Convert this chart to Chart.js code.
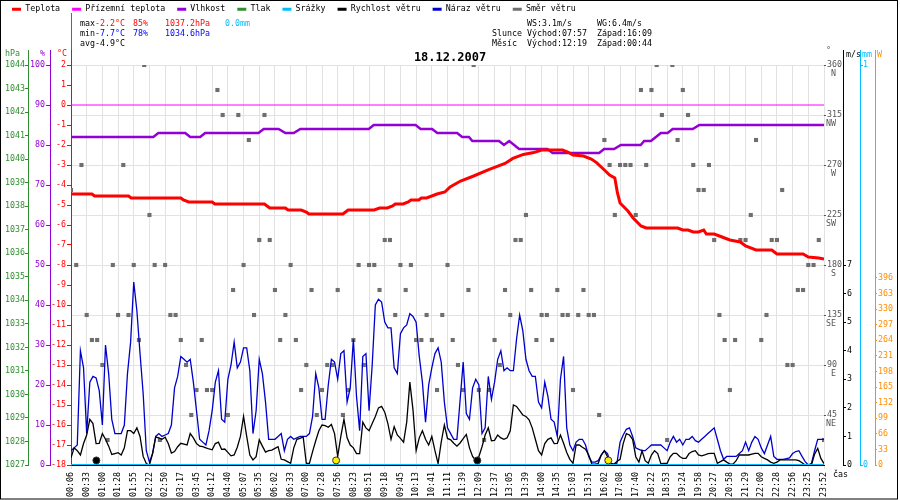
<!DOCTYPE html>
<html>
<head>
<meta charset="utf-8">
<script src="https://cdn.jsdelivr.net/npm/chart.js@4.4.1/dist/chart.umd.min.js"></script>
<style>
  html, body { margin: 0; padding: 0; background: #fff; }
  canvas { display: block; }
</style>
</head>
<body>
<canvas id="c" width="900" height="500"></canvas>
<script>
// x axis: sample number 0..288, a time label every 6 samples
const timeLabels = ['00:06','00:33','01:00','01:28','01:55','02:22','02:50','03:17','03:45','04:12',
  '04:40','05:07','05:35','06:02','06:33','07:00','07:28','07:56','08:23','08:51','09:18','09:45',
  '10:13','10:41','11:11','11:39','12:09','12:37','13:05','13:39','14:00','14:35','15:03','15:31',
  '16:02','17:08','17:40','18:22','18:53','19:24','19:58','20:27','20:58','21:29','22:00','22:28',
  '22:56','23:25','23:52'];

// [sample, °C]
const tempPts = [[0,-4.45],[8,-4.45],[9,-4.55],[22,-4.55],[23,-4.65],[42,-4.65],[43,-4.75],[45,-4.85],
  [54,-4.85],[55,-4.95],[74,-4.95],[75,-5.05],[76,-5.15],[82,-5.15],[83,-5.25],[88,-5.25],[90,-5.35],
  [91,-5.45],[104,-5.45],[105,-5.35],[106,-5.25],[116,-5.25],[118,-5.15],[121,-5.15],[123,-5.05],
  [124,-4.95],[127,-4.95],[129,-4.85],[130,-4.75],[133,-4.75],[134,-4.65],[136,-4.65],[140,-4.45],
  [143,-4.35],[145,-4.1],[149,-3.8],[154,-3.55],[160,-3.22],[166,-2.92],[169,-2.67],[173,-2.47],
  [177,-2.38],[180,-2.25],[188,-2.25],[190,-2.35],[192,-2.5],[196,-2.55],[199,-2.7],[201,-2.88],
  [204,-3.25],[206,-3.5],[208,-3.65],[209,-4.4],[210,-4.9],[213,-5.3],[215,-5.65],[218,-6.05],
  [220,-6.15],[232,-6.15],[234,-6.25],[236,-6.25],[238,-6.35],[240,-6.35],[242,-6.25],[243,-6.45],
  [246,-6.45],[249,-6.6],[252,-6.75],[256,-6.85],[258,-7.05],[262,-7.25],[268,-7.25],[270,-7.45],
  [280,-7.45],[282,-7.6],[286,-7.65],[288,-7.7]];

// [sample, °C] ground temperature
const groundPts = [[0,0],[288,0]];

// [sample, %]
const humPts = [[0,82],[31.5,82],[33.4,83],[43.7,83],[45.6,82],[49.4,82],[51.3,83],[71.7,83],[73.7,84],
  [79.4,84],[82,83],[85.2,83],[87.7,84],[113.9,84],[115.8,85],[131.8,85],[133.7,84],[138.1,84],
  [140.1,83],[147.7,83],[149.6,82],[152.2,82],[153.5,81],[163.7,81],[165.6,80],[167.6,81],[171.4,79],
  [182.2,79],[184.2,78],[202,78],[203.9,79],[207.7,79],[210.3,80],[217.9,80],[219.2,81],[221.8,81],
  [223.7,82],[225.6,83],[228.2,83],[230.1,84],[237.8,84],[240.3,85],[288,85]];

// pressure: no line visible in the picture
const pressPts = [];

// [sample, mm]
const precipPts = [[0,0],[288,0]];

// wind in m/s, 241 readings spread evenly over the day
const windSpeed = [0.25,0.6,0.5,0.35,0.75,1.05,1.6,1.45,0.75,0.76,
  1.1,0.9,0.66,0.37,0.4,0.43,0.35,0.6,1.2,1.2,
  1.1,1.3,1.0,0.3,0.05,0.0,0.4,0.98,0.95,0.9,
  0.97,0.75,0.42,0.47,0.64,0.76,0.73,0.7,1.1,0.95,
  0.75,0.66,0.64,0.6,0.56,0.53,0.75,0.8,0.55,0.56,
  0.44,0.32,0.35,0.62,1.0,1.7,1.0,0.35,0.18,0.29,
  0.88,0.66,0.45,0.5,0.52,0.58,0.64,0.2,0.18,0.12,
  0.06,0.6,0.9,0.93,0.98,0.06,0.06,0.47,0.85,1.2,
  1.4,1.38,1.32,1.42,1.1,0.3,1.0,1.6,0.95,0.7,
  0.6,0.4,0.4,1.5,1.3,1.2,1.45,1.7,2.0,2.05,
  1.85,1.45,0.9,1.34,1.05,0.93,0.8,1.5,2.9,1.93,
  0.5,0.95,1.2,0.9,0.7,1.0,0.5,0.05,0.8,1.4,
  0.93,0.88,0.76,0.66,0.77,0.92,1.07,0.6,0.3,0.15,
  0.29,0.64,1.05,1.3,0.85,0.86,1.05,0.95,0.9,0.95,
  1.2,2.1,2.05,1.9,1.75,1.7,1.58,1.3,0.9,0.5,
  0.35,0.75,0.9,0.95,0.75,0.76,1.05,0.76,0.44,0.2,
  0.06,0.7,0.7,0.62,0.55,0.35,0.03,0.03,0.05,0.35,
  0.5,0.29,0.05,0.03,0.12,0.2,0.75,1.1,1.05,0.9,
  0.29,0.1,0.5,0.15,0.06,0.35,0.5,0.4,0.05,0.06,
  0.06,0.29,0.41,0.41,0.3,0.23,0.23,0.4,0.47,0.5,
  0.35,0.32,0.35,0.4,0.41,0.41,0.06,0.12,0.18,0.1,
  0.03,0.03,0.15,0.35,0.35,0.35,0.35,0.38,0.41,0.41,
  0.29,0.23,0.18,0.1,0.06,0.1,0.18,0.18,0.18,0.18,
  0.18,0.18,0.15,0.08,0.0,0.0,0.0,0.38,0.58,0.23,
  0.05];

const windGust = [0.5,0.6,0.7,4.0,3.4,1.1,2.9,3.1,3.05,2.6,
  1.4,4.2,3.2,1.6,1.1,1.1,1.1,1.4,3.2,4.3,
  6.4,5.4,3.9,2.5,0.5,0.1,0.4,1.0,1.1,1.0,
  1.05,1.1,1.4,2.7,3.1,3.8,3.7,3.6,3.7,2.9,
  1.9,0.9,0.8,0.7,1.2,1.9,2.9,3.3,1.6,1.5,
  3.0,3.5,4.3,3.4,3.6,4.1,4.1,3.3,1.1,1.9,
  3.7,3.2,2.2,0.9,0.9,0.9,1.0,1.1,0.5,0.9,
  1.0,0.9,0.95,1.0,1.0,1.0,1.1,1.7,3.2,2.7,
  1.6,1.6,2.8,3.7,3.6,3.0,3.9,4.0,2.2,2.7,
  4.4,2.4,1.2,3.8,3.9,1.9,3.5,5.6,5.8,5.7,
  5.0,4.8,4.8,3.4,3.2,4.6,4.8,4.9,5.3,5.2,
  5.0,3.8,2.9,1.5,2.8,3.4,3.9,4.1,3.6,2.2,
  1.3,1.1,0.9,0.9,2.25,3.6,1.8,1.6,2.7,3.0,
  2.8,1.1,1.3,3.1,2.3,2.9,3.7,4.0,3.3,3.4,
  3.3,3.3,4.4,5.25,4.7,3.7,3.3,3.1,3.1,2.2,
  2.0,2.9,2.4,1.6,1.5,1.0,3.0,3.8,1.3,0.7,
  0.5,0.8,0.9,0.9,0.7,0.3,0.1,0.1,0.15,0.35,
  0.5,0.4,0.06,0.03,0.06,0.8,1.05,1.25,1.3,1.0,
  0.6,0.55,0.5,0.5,0.6,0.7,0.7,0.7,0.7,0.6,
  0.5,0.8,1.0,0.8,0.9,0.7,0.9,0.9,1.0,0.85,
  0.8,0.9,1.0,1.1,1.2,1.3,0.9,0.5,0.2,0.3,
  0.3,0.3,0.3,0.4,0.5,0.8,0.5,0.8,1.0,0.9,
  0.6,0.4,0.7,1.0,0.3,0.2,0.2,0.2,0.22,0.25,
  0.4,0.47,0.5,0.3,0.12,0.0,0.06,0.5,0.9,0.9,
  0.9];

// wind direction in degrees, every second sample
const windDir = [247.5,180,270,135,112.5,112.5,90,22.5,180,135,
  270,135,180,112.5,360,225,180,22.5,180,135,
  135,112.5,90,45,67.5,112.5,67.5,67.5,337.5,315,
  45,157.5,315,180,292.5,135,202.5,315,202.5,157.5,
  112.5,135,180,112.5,67.5,90,157.5,45,67.5,90,
  90,157.5,45,67.5,112.5,180,90,180,180,157.5,
  202.5,202.5,135,180,157.5,180,112.5,112.5,135,112.5,
  67.5,135,180,112.5,90,67.5,157.5,360,67.5,22.5,
  67.5,112.5,90,157.5,135,202.5,202.5,225,157.5,112.5,
  135,135,112.5,157.5,135,135,67.5,135,157.5,135,
  135,45,292.5,270,225,270,270,270,225,337.5,
  270,337.5,360,315,22.5,360,292.5,337.5,315,270,
  247.5,247.5,270,202.5,135,112.5,67.5,112.5,202.5,202.5,
  225,292.5,112.5,135,202.5,202.5,247.5,90,90,157.5,
  157.5,180,180,202.5,22.5];

// sunrise / sunset and moonset / moonrise, in samples
const sunX = [101.4, 205.5];
const moonX = [9.7, 155.4];

// tick values
const tempTicks = [-18,-17,-16,-15,-14,-13,-12,-11,-10,-9,-8,-7,-6,-5,-4,-3,-2,-1,0,1,2];
const humTicks = [0,10,20,30,40,50,60,70,80,90,100];
const pressTicks = [1027,1028,1029,1030,1031,1032,1033,1034,1035,1036,1037,1038,1039,1040,1041,1042,1043,1044];
const dirTicks = [45,90,135,180,225,270,315,360];
const dirNames = ['NE','E','SE','S','SW','W','NW','N'];
const msTicks = [0,1,2,3,4,5,6,7];
const mmTicks = [0,1];
const wTicks = [0,33,66,99,132,165,198,231,264,297,330,363,396];

// header texts
const dateTitle = '18.12.2007';
const statMax = ['-2.2°C', '85%', '1037.2hPa', '0.0mm'];
const statMin = ['-7.7°C', '78%', '1034.6hPa'];
const statAvg = '-4.9°C';
const windStats = ['WS:3.1m/s', 'WG:6.4m/s'];
const sunTimes = ['Východ:07:57', 'Západ:16:09'];
const moonTimes = ['Východ:12:19', 'Západ:00:44'];

const MONO = '"DejaVu Sans Mono", monospace';
const RED = '#ff0000', PURPLE = '#9400d3', GREEN = '#2f8f2f', CYAN = '#00bfff',
  BLUE = '#0000cc', GREY = '#6e6e6e', ORANGE = '#ff8c00';

Chart.defaults.font.family = MONO;
Chart.defaults.font.size = 8.3;
Chart.defaults.color = '#000';

const toXY = pts => pts.map(p => ({ x: p[0], y: p[1] }));
const windStep = 288 / (windSpeed.length - 1);

function yAxis(o) {
  return {
    type: 'linear',
    position: o.pos,
    weight: o.weight,
    min: o.min,
    max: o.max,
    afterFit: s => { s.width = o.width; },
    afterBuildTicks: s => { s.ticks = o.ticks.map(v => ({ value: v })); },
    ticks: { color: o.color, padding: o.pad, callback: v => String(v) },
    grid: {
      drawOnChartArea: !!o.grid,
      color: '#e2e2e2',
      tickLength: o.tick,
      tickColor: o.tickColor || o.color
    },
    border: { display: o.border !== false, color: o.color }
  };
}

const decor = {
  id: 'decor',
  afterDraw(chart) {
    const { ctx, chartArea: ca, scales } = chart;
    const px = p => Math.round(p - 0.5) + 0.5;
    const vline = (x, y0, y1, c) => {
      ctx.strokeStyle = c; ctx.lineWidth = 1;
      ctx.beginPath(); ctx.moveTo(x, y0); ctx.lineTo(x, y1); ctx.stroke();
    };
    ctx.save();

    // axis lines run on above the plot
    const tT = scales.yT;
    vline(px(tT.right), 13, 50, GREEN);
    [['yP', GREEN], ['yH', PURPLE], ['yT', RED], ['yMS', '#000'], ['yMM', CYAN], ['yW', ORANGE]]
      .forEach(([id, c]) => {
        const s = scales[id];
        vline(px(s.position === 'left' ? s.right : s.left), 50, ca.top, c);
      });

    ctx.font = '8.3px ' + MONO;
    ctx.textBaseline = 'middle';
    ctx.textAlign = 'left';
    const put = (t, x, y, c) => { ctx.fillStyle = c; ctx.fillText(t, x, y); };

    put('max', 80, 24, '#000');
    put(statMax[0], 95, 24, RED);
    put(statMax[1], 133, 24, RED);
    put(statMax[2], 165, 24, RED);
    put(statMax[3], 225, 24, CYAN);
    put('min', 80, 34, '#000');
    put(statMin[0], 95, 34, '#0000ff');
    put(statMin[1], 133, 34, '#0000ff');
    put(statMin[2], 165, 34, '#0000ff');
    put('avg', 80, 44, '#000');
    put(statAvg, 95, 44, '#000');

    put(windStats[0], 527, 24, '#000');
    put(windStats[1], 597, 24, '#000');
    put('Slunce', 492, 34, '#000');
    put(sunTimes[0], 527, 34, '#000');
    put(sunTimes[1], 597, 34, '#000');
    put('Měsíc', 492, 44, '#000');
    put(moonTimes[0], 527, 44, '#000');
    put(moonTimes[1], 597, 44, '#000');

    // units over the axes
    put('hPa', 5, 54, GREEN);
    put('%', 40, 54, PURPLE);
    put('°C', 57, 54, RED);
    put('°', 826, 51, '#555');
    put('m/s', 846, 55, '#000');
    put('mm', 862, 55, CYAN);
    put('W', 877, 55, ORANGE);
    put('čas', 833, 475, '#000');

    // compass names under the direction ticks
    const sD = scales.yD;
    ctx.textAlign = 'right';
    dirTicks.forEach((v, i) => put(dirNames[i], 836, sD.getPixelForValue(v) + 9, '#555'));

    // frame
    ctx.strokeStyle = '#000';
    ctx.lineWidth = 1;
    ctx.strokeRect(0.5, 0.5, 897, 498.5);
    ctx.restore();
  }
};

new Chart(document.getElementById('c'), {
  type: 'line',
  data: {
    datasets: [
      { label: 'Teplota', data: toXY(tempPts), yAxisID: 'yT',
        borderColor: RED, backgroundColor: RED, borderWidth: 3 },
      { label: 'Přízemní teplota', data: toXY(groundPts), yAxisID: 'yT',
        borderColor: '#ff00ff', backgroundColor: '#ff00ff', borderWidth: 1 },
      { label: 'Vlhkost', data: toXY(humPts), yAxisID: 'yH',
        borderColor: PURPLE, backgroundColor: PURPLE, borderWidth: 2.5 },
      { label: 'Tlak', data: toXY(pressPts), yAxisID: 'yP',
        borderColor: GREEN, backgroundColor: GREEN, borderWidth: 2 },
      { label: 'Srážky', data: toXY(precipPts), yAxisID: 'yMM',
        borderColor: CYAN, backgroundColor: CYAN, borderWidth: 2 },
      { label: 'Rychlost větru', data: windSpeed.map((v, i) => ({ x: i * windStep, y: v })), yAxisID: 'yMS',
        borderColor: '#000', backgroundColor: '#000', borderWidth: 1.3 },
      { label: 'Náraz větru', data: windGust.map((v, i) => ({ x: i * windStep, y: v })), yAxisID: 'yMS',
        borderColor: BLUE, backgroundColor: BLUE, borderWidth: 1.3 },
      { label: 'Směr větru', data: windDir.map((v, k) => ({ x: k * 2, y: v })), yAxisID: 'yD',
        showLine: false, pointStyle: 'rect', pointRadius: 2.9, borderWidth: 0,
        borderColor: GREY, backgroundColor: GREY, pointBackgroundColor: GREY },
      { label: '', order: -1, yAxisID: 'yMS', showLine: false,
        data: sunX.concat(moonX).map(x => ({ x, y: 0.16 })),
        pointRadius: 3.5, pointBorderWidth: 1, pointBorderColor: '#333',
        pointBackgroundColor: ['#ffee00', '#ffee00', '#000', '#000'] }
    ]
  },
  options: {
    responsive: false,
    devicePixelRatio: 1,
    animation: false,
    events: [],
    elements: { point: { radius: 0 }, line: { tension: 0 } },
    layout: { padding: { top: -7, left: 0, right: 0, bottom: 0 } },
    plugins: {
      tooltip: { enabled: false },
      legend: {
        position: 'top',
        align: 'start',
        labels: {
          boxWidth: 9,
          boxHeight: 3,
          padding: 12,
          color: '#000',
          font: { family: MONO, size: 8.3 },
          filter: item => item.text !== '',
          generateLabels: chart => Chart.defaults.plugins.legend.labels.generateLabels(chart)
            .map(it => Object.assign(it, { fillStyle: it.strokeStyle, lineWidth: 0 }))
        }
      },
      title: {
        display: true,
        text: dateTitle,
        weight: 500,
        color: '#000',
        font: { family: MONO, size: 12, weight: 'bold' },
        padding: { top: 27.3, bottom: 0 }
      }
    },
    scales: {
      x: {
        type: 'linear', min: 0, max: 288,
        afterFit: s => { s.height = 35; },
        afterBuildTicks: s => { s.ticks = timeLabels.map((t, k) => ({ value: k * 6 })); },
        ticks: { autoSkip: false, minRotation: 90, maxRotation: 90, padding: 3, color: '#000',
          callback: v => timeLabels[Math.round(v / 6)] },
        grid: { color: '#e2e2e2', tickLength: 4 },
        border: { color: '#000' }
      },
      yT: yAxis({ pos: 'left', weight: 0, min: -18, max: 2, width: 21, ticks: tempTicks,
        color: RED, tick: 4, pad: 1 }),
      yH: yAxis({ pos: 'left', weight: 1, min: 0, max: 100, width: 22, ticks: humTicks,
        color: PURPLE, tick: 4, pad: 1 }),
      yP: yAxis({ pos: 'left', weight: 2, min: 1027, max: 1044, width: 28, ticks: pressTicks,
        color: GREEN, tick: 3, pad: 0 }),
      yD: yAxis({ pos: 'right', weight: 0, min: 0, max: 360, width: 19, ticks: dirTicks,
        color: '#555', tick: 2, pad: 1, grid: true, border: false }),
      yMS: yAxis({ pos: 'right', weight: 1, min: 0, max: 14, width: 17, ticks: msTicks,
        color: '#000', tick: 3, pad: 1 }),
      yMM: yAxis({ pos: 'right', weight: 2, min: 0, max: 1, width: 15, ticks: mmTicks,
        color: CYAN, tick: 3, pad: 0 }),
      yW: yAxis({ pos: 'right', weight: 3, min: 0, max: 847, width: 25, ticks: wTicks,
        color: ORANGE, tick: 2, pad: 1 })
    }
  },
  plugins: [decor]
});
</script>
</body>
</html>
